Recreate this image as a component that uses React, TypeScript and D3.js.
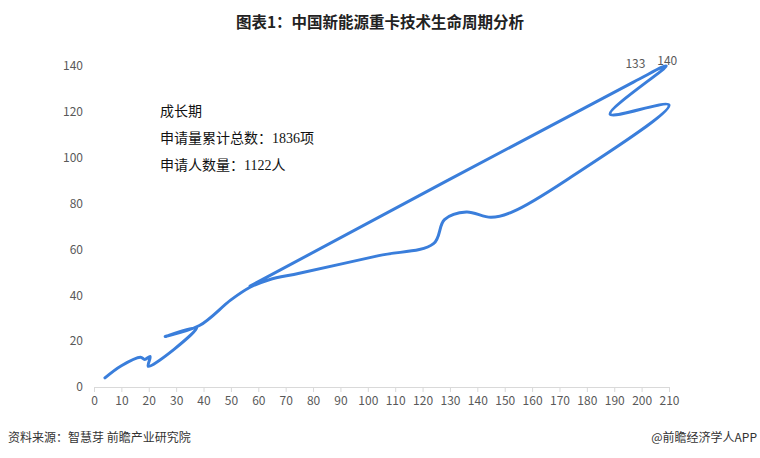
import React, { useEffect, useRef } from 'react';
import * as d3 from 'd3';

// applicants (x) and applications (y), in series order
const applicants: number[] = [4, 10, 17, 18.5, 20.5, 19.8, 37.5, 26, 38.5, 50, 57, 64, 75, 104, 124, 128, 136, 145, 153, 172.6, 210, 188.5, 209, 197, 57];
const applications: number[] = [4, 9.3, 13, 12, 13.3, 9, 25.8, 22, 26.8, 38, 43.5, 46.8, 49.6, 57.3, 62.5, 73, 76.3, 74, 76.5, 90.3, 123, 119, 140, 133, 44];

const xTicks: number[] = d3.range(0, 211, 10);
const yTicks: number[] = [0, 20, 40, 60, 80, 100, 120, 140];

// labelled points
const labelIdx: number[] = [23, 22];

const title = '图表1：中国新能源重卡技术生命周期分析';
const noteLines: string[] = ['成长期', '申请量累计总数：1836项', '申请人数量：1122人'];
const source = '资料来源：智慧芽 前瞻产业研究院';
const credit = '@前瞻经济学人APP';

const W = 760;
const H = 458;
const margin = { top: 66, right: 91, bottom: 71, left: 94 };
const innerWidth = W - margin.left - margin.right;
const innerHeight = H - margin.top - margin.bottom;

const sans = '"Noto Sans CJK SC", "Noto Sans", sans-serif';
const serif = '"Liberation Serif", "Noto Sans CJK SC", serif';

const App: React.FC = () => {
	const gRef = useRef<SVGGElement>(null);

	const xScale = d3.scaleLinear().domain([0, 210]).range([0, innerWidth]);
	const yScale = d3.scaleLinear().domain([0, 140]).range([innerHeight, 0]);

	useEffect(() => {
		const g = d3.select(gRef.current);
		g.selectAll('*').remove();

		// x axis
		const xAxis = d3.axisBottom(xScale).tickValues(xTicks).tickSize(5).tickPadding(4);
		const gx = g.append('g').attr('transform', `translate(0,${innerHeight})`).call(xAxis);
		gx.select('.domain').attr('stroke', '#d9d9d9');
		gx.selectAll('.tick line').attr('stroke', '#d9d9d9');
		gx.selectAll('.tick text').attr('fill', '#595959').style('font-size', '12px').style('font-family', sans);

		// y axis, labels only
		const yAxis = d3.axisLeft(yScale).tickValues(yTicks).tickSize(0).tickPadding(11);
		const gy = g.append('g').call(yAxis);
		gy.select('.domain').remove();
		gy.selectAll('.tick text').attr('fill', '#595959').style('font-size', '12px').style('font-family', sans);

		const pts: [number, number][] = applicants.map((a, i) => [a, applications[i]]);
		const line = d3
			.line<[number, number]>()
			.x((d) => xScale(d[0]))
			.y((d) => yScale(d[1]))
			.curve(d3.curveCatmullRom.alpha(0.5));

		g.append('path')
			.datum(pts)
			.attr('d', line)
			.attr('fill', 'none')
			.attr('stroke', '#3a7edb')
			.attr('stroke-width', 3)
			.attr('stroke-linejoin', 'round')
			.attr('stroke-linecap', 'round');

		// data labels above the two top points
		const offsets: Record<number, [number, number]> = { 23: [2, -14], 22: [1, -1] };
		g.selectAll('.dlabel')
			.data(labelIdx)
			.enter()
			.append('text')
			.attr('class', 'dlabel')
			.attr('x', (i) => xScale(applicants[i]) + offsets[i][0])
			.attr('y', (i) => yScale(applications[i]) + offsets[i][1])
			.attr('text-anchor', 'middle')
			.attr('fill', '#595959')
			.style('font-size', '12px')
			.style('font-family', sans)
			.text((i) => String(applications[i]));
	}, []);

	return (
		<svg width={W} height={H} style={{ position: 'absolute', left: 0, top: 0, background: '#fff' }}>
			<text x={380} y={28} textAnchor="middle" fontFamily={sans} fontWeight={700} fontSize={15.5} fill="#222">
				{title}
			</text>
			<g transform={`translate(${margin.left},${margin.top})`}>
				<g ref={gRef} />
			</g>
			{noteLines.map((t, i) => (
				<text key={t} x={160} y={116 + i * 27} fontFamily={serif} fontSize={14} fill="#111">
					{t}
				</text>
			))}
			<text x={8} y={442} fontFamily={sans} fontSize={12} fill="#333">
				{source}
			</text>
			<text x={757} y={442} textAnchor="end" fontFamily={sans} fontSize={12} fill="#333">
				{credit}
			</text>
		</svg>
	);
};

export default App;
